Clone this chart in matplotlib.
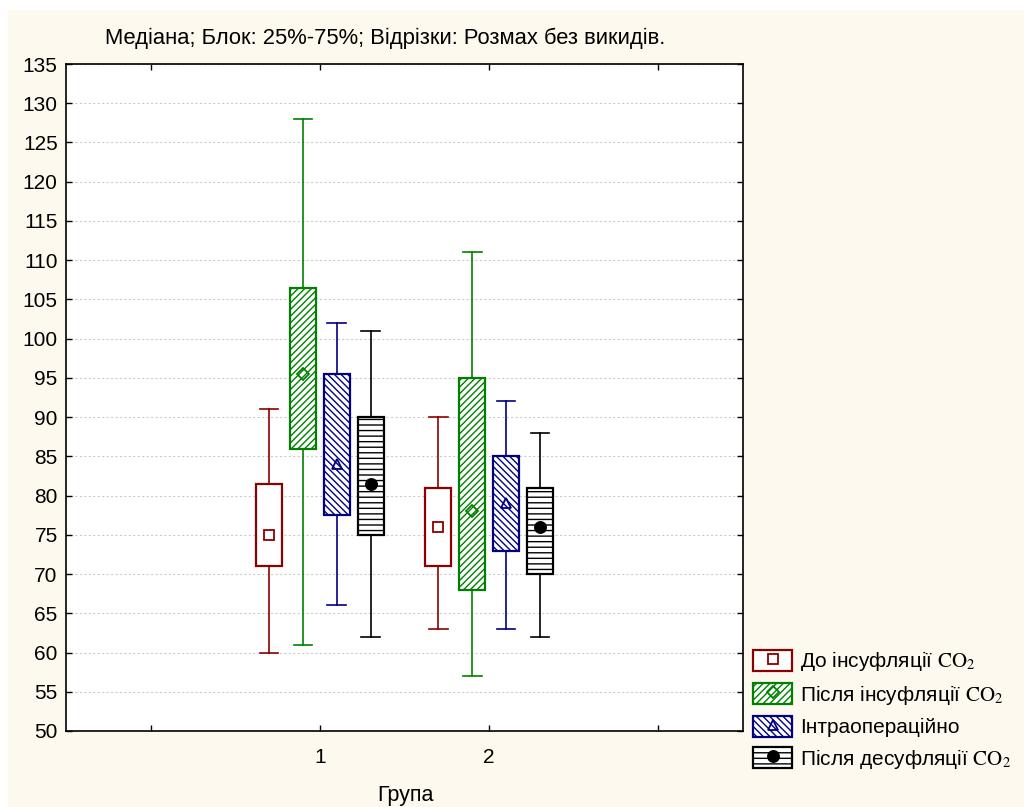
import matplotlib
matplotlib.use("Agg")
import matplotlib.pyplot as plt
from matplotlib.patches import Patch, Rectangle
from matplotlib.lines import Line2D

plt.rcParams["font.family"] = ["Liberation Sans", "DejaVu Sans"]
plt.rcParams["mathtext.fontset"] = "stix"
plt.rcParams["hatch.linewidth"] = 1.0

# data: values for group 1 and group 2
groups = [1, 2]
labels = [r"До інсуфляції $\mathrm{CO}_2$",
          r"Після інсуфляції $\mathrm{CO}_2$",
          "Інтраопераційно",
          r"Після десуфляції $\mathrm{CO}_2$"]
whis_lo = [[60, 63], [61, 57], [66, 63], [62, 62]]
q1 = [[71, 71], [86, 68], [77.5, 73], [75, 70]]
median = [[75, 76], [95.5, 78], [84, 79], [81.5, 76]]
q3 = [[81.5, 81], [106.5, 95], [95.5, 85], [90, 81]]
whis_hi = [[91, 90], [128, 111], [102, 92], [101, 88]]

colors = ["#8b0000", "#008000", "#000080", "#000000"]
hatches = [None, "/////", "\\\\\\\\\\", "---"]
markers = ["s", "D", "^", "o"]
mfaces = ["none", "none", "none", "black"]
msizes = [7, 6, 7, 8]
offsets = [-0.3, -0.1, 0.1, 0.3]

fig = plt.figure(figsize=(10.24, 8.07), dpi=100, facecolor="white")
fig.patches.append(Rectangle((8 / 1024, 0), 1, 1 - 10 / 807, transform=fig.transFigure,
                             facecolor="#fdf9ee", edgecolor="none", zorder=-10))
ax = fig.add_axes([66 / 1024, 1 - 731 / 807, 677 / 1024, 667 / 807])
ax.set_facecolor("white")

for i in range(4):
    stats = []
    for g in range(len(groups)):
        stats.append(dict(whislo=whis_lo[i][g], q1=q1[i][g], med=median[i][g],
                          q3=q3[i][g], whishi=whis_hi[i][g], mean=median[i][g],
                          fliers=[]))
    pos = [g + offsets[i] for g in groups]
    c = colors[i]
    bp = ax.bxp(stats, positions=pos, widths=0.153, capwidths=0.11,
                patch_artist=True, showmeans=True, showfliers=False,
                boxprops=dict(facecolor="white", edgecolor=c, linewidth=1.6),
                whiskerprops=dict(color=c, linewidth=1.2),
                capprops=dict(color=c, linewidth=1.2),
                medianprops=dict(visible=False),
                meanprops=dict(marker=markers[i], markerfacecolor=mfaces[i],
                               markeredgecolor=c, markersize=msizes[i],
                               markeredgewidth=1.3),
                manage_ticks=False)
    for box in bp["boxes"]:
        if hatches[i]:
            box.set_hatch(hatches[i])
        box.set_zorder(2)
    for m in bp["means"]:
        m.set_zorder(3)

ax.set_xlim(-0.5, 3.5)
ax.set_ylim(50, 135)
ax.set_xticks([0, 1, 2, 3])
ax.set_xticklabels(["", "1", "2", ""])
ax.set_yticks(range(50, 136, 5))
ax.tick_params(direction="in", length=4, width=1, labelsize=15,
               top=True, right=True, pad=6)
ax.tick_params(axis="x", pad=12)
ax.yaxis.grid(True, linestyle=(0, (2, 2)), color="#cccccc", linewidth=0.8)
ax.set_axisbelow(True)
for s in ax.spines.values():
    s.set_linewidth(1.2)

fig.text(385 / 1024, 1 - 38 / 807, "Медіана; Блок: 25%-75%; Відрізки: Розмах без викидів.",
         ha="center", va="center", fontsize=15.8)
fig.text(405 / 1024, 1 - 795 / 807, "Група", ha="center", va="center", fontsize=15.5)

handles = []
for i in range(4):
    p = Patch(facecolor="white", edgecolor=colors[i], hatch=hatches[i], linewidth=1.6)
    m = Line2D([], [], linestyle="none", marker=markers[i], markerfacecolor=mfaces[i],
               markeredgecolor=colors[i], markersize=msizes[i], markeredgewidth=1.3)
    handles.append((p, m))
fig.legend(handles, labels, loc="center left", bbox_to_anchor=(743 / 1024, 1 - 710 / 807),
           frameon=False, fontsize=15, handlelength=1.85, handleheight=1.2,
           handletextpad=0.4, labelspacing=0.44, borderpad=0)

fig.savefig("out.png", dpi=100, facecolor=fig.get_facecolor())
